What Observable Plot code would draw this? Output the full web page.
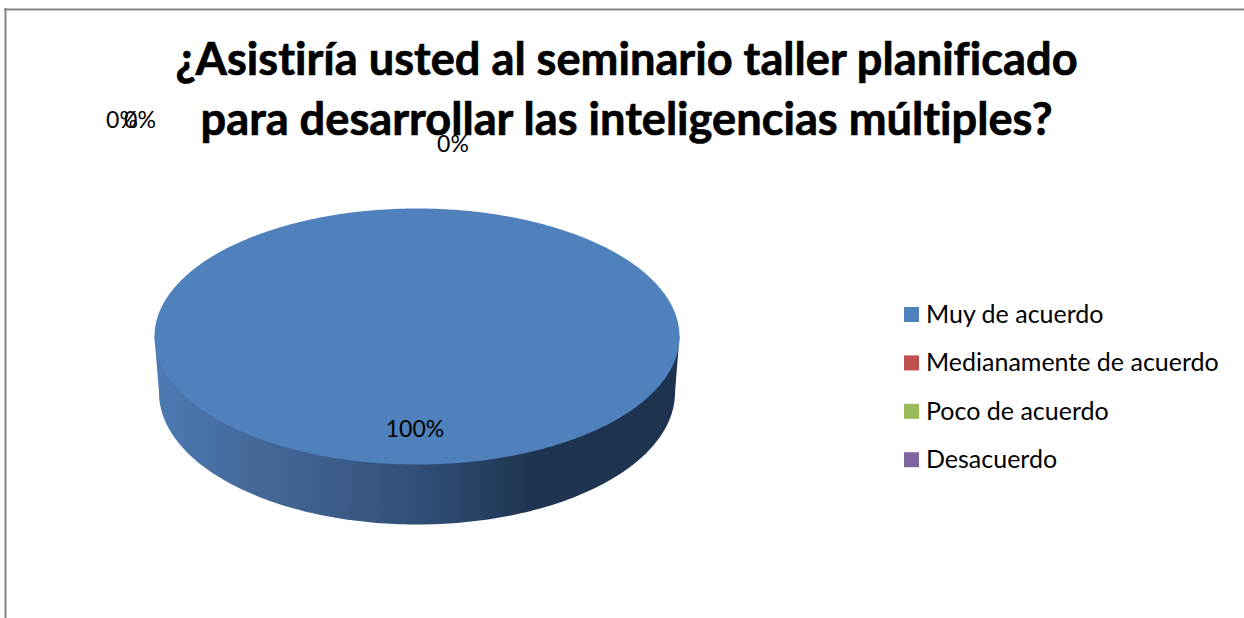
<!DOCTYPE html>
<html>
<head>
<meta charset="utf-8">
<script src="https://cdn.jsdelivr.net/npm/d3@7"></script>
<script src="https://cdn.jsdelivr.net/npm/@observablehq/plot@0.6"></script>
<style>html,body{margin:0;padding:0;background:#fff}svg{display:block;font-variant-ligatures:none}svg text{font-variant-ligatures:none;font-feature-settings:"liga" 0,"clig" 0}</style>
</head>
<body>
<div id="chart"></div>
<script>
const titleLines = ["¿Asistiría usted al seminario taller planificado", "para desarrollar las inteligencias múltiples?"];
const categories = ["Muy de acuerdo", "Medianamente de acuerdo", "Poco de acuerdo", "Desacuerdo"];
const shares = [100, 0, 0, 0];
const colors = ["#4f81bd", "#c0504d", "#9bbb59", "#8064a2"];

// layout of the drawing, in the pixel units of the x and y scales
const W = 1244, H = 618;
const top3d = {cx: 416.5, cy: 336, rx: 262.5, ry: 128};
const bottom3d = {cx: 416.5, cy: 392, rx: 258, ry: 132};
const labelNudge = [[-2, 0], [-295, -88], [-277, -88], [36, -64]];
const wallStops = [[0, "#4c7bb4"], [0.18, "#44699a"], [0.36, "#3b5c87"], [0.52, "#2f4d74"], [0.72, "#1f3450"], [1, "#1e3350"]];
const fontFamily = "Lato, Carlito, Calibri, sans-serif";

const rad = a => a * Math.PI / 180;
const at = (e, a) => ({x: e.cx + e.rx * Math.sin(rad(a)), y: e.cy - e.ry * Math.cos(rad(a))});

// slices: start and end angle, clockwise from the top
let running = 0;
const slices = categories.map((category, i) => {
  const start = running * 3.6;
  running += shares[i];
  return {category, share: shares[i], start, end: running * 3.6};
});

const topPoints = slices.filter(s => s.share > 0).flatMap(s =>
  d3.range(s.start, s.end + 0.5, 1).map(a => ({category: s.category, ...at(top3d, a)}))
);

// visible wall: the front half of every slice
const wallPoints = slices.filter(s => s.share > 0 && s.end > 90 && s.start < 270).flatMap(s => {
  const a0 = Math.max(s.start, 90), a1 = Math.min(s.end, 270);
  const lower = d3.range(a0, a1 + 0.5, 1).map(a => at(bottom3d, a));
  const upper = [at(top3d, a1), at(top3d, a0)];
  return [...lower, ...upper].map(p => ({category: s.category, ...p}));
});

const labels = slices.map((s, i) => {
  const mid = (s.start + s.end) / 2;
  const anchor = s.share > 0
    ? {x: top3d.cx, y: top3d.cy - 0.727 * top3d.ry * Math.cos(rad(mid))}
    : at(top3d, mid);
  return {text: `${s.share}%`, x: anchor.x + labelNudge[i][0], y: anchor.y + labelNudge[i][1]};
});

const legend = categories.map((category, i) => ({category, y: 314.5 + i * 48.4}));

const wallGradient = () => {
  const ns = "http://www.w3.org/2000/svg";
  const defs = document.createElementNS(ns, "defs");
  const g = document.createElementNS(ns, "linearGradient");
  g.setAttribute("id", "wall");
  g.setAttribute("gradientUnits", "userSpaceOnUse");
  g.setAttribute("x1", top3d.cx - top3d.rx);
  g.setAttribute("x2", top3d.cx + top3d.rx);
  g.setAttribute("y1", 0);
  g.setAttribute("y2", 0);
  wallStops.forEach(([o, c]) => {
    const st = document.createElementNS(ns, "stop");
    st.setAttribute("offset", o);
    st.setAttribute("stop-color", c);
    g.appendChild(st);
  });
  defs.appendChild(g);
  return defs;
};

const plot = Plot.plot({
  width: W, height: H,
  margin: 0,
  style: {background: "#fff", fontFamily},
  x: {domain: [0, W], range: [0, W], axis: null},
  y: {domain: [0, H], range: [0, H], axis: null},
  color: {type: "ordinal", domain: categories, range: colors},
  marks: [
    wallGradient,
    Plot.ruleY([9], {x1: 4, x2: W, stroke: "#868686", strokeWidth: 2}),
    Plot.ruleX([5], {y1: 8, y2: H, stroke: "#868686", strokeWidth: 2}),
    Plot.line(wallPoints, {x: "x", y: "y", z: "category", fill: "url(#wall)", stroke: "none", curve: "linear-closed"}),
    Plot.line(topPoints, {x: "x", y: "y", fill: "category", stroke: "none", curve: "linear-closed"}),
    Plot.text(titleLines, {
      x: 626, y: (d, i) => 60 + i * 60, text: d => d,
      fontSize: 45.2, fontWeight: 700, fill: "#000", stroke: "#000", strokeWidth: 0.7, textAnchor: "middle", fontFamily
    }),
    Plot.text(labels, {x: "x", y: "y", text: "text", fontSize: 23, fill: "#000", textAnchor: "middle", fontFamily}),
    Plot.rect(legend, {
      x1: 904, x2: 919,
      y1: d => d.y - 7.5, y2: d => d.y + 7.5,
      fill: "category"
    }),
    Plot.text(legend, {x: 925.5, y: "y", text: "category", fontSize: 25, fill: "#000", textAnchor: "start", fontFamily})
  ]
});
document.getElementById("chart").appendChild(plot);
</script>
</body>
</html>
